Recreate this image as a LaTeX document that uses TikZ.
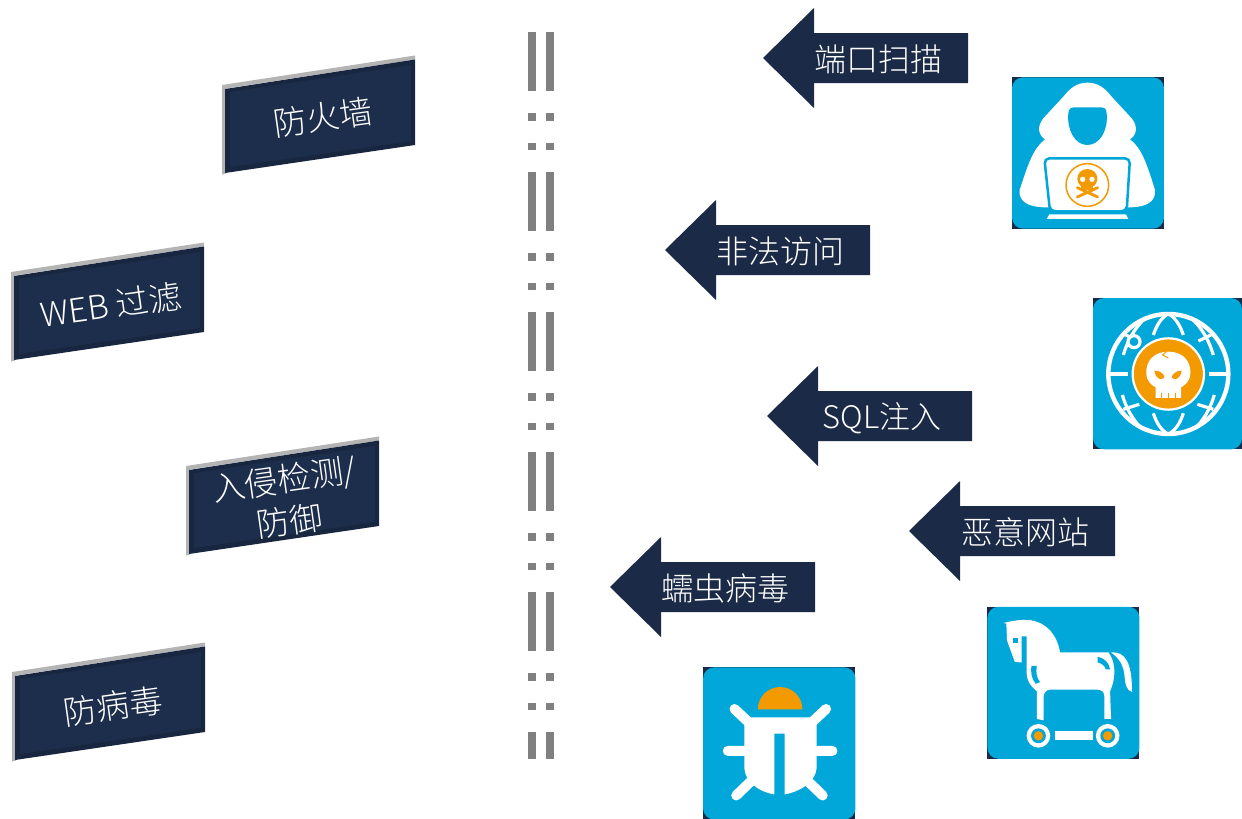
\documentclass[tikz,border=0pt]{standalone}
\usepackage{fontspec}
\setmainfont{Noto Sans CJK SC Light}
\definecolor{navy}{HTML}{1A2A47}
\definecolor{panelfill}{HTML}{1C2E4C}
\definecolor{paneledge}{HTML}{18273F}
\definecolor{sky}{HTML}{00A7D8}
\definecolor{amber}{HTML}{F39A00}
\definecolor{bar}{HTML}{808080}
\definecolor{edge}{HTML}{B4B4B4}
\tikzset{
  x=1pt,y=-1pt,
  lbl/.style={text=white,inner sep=0pt,font=\fontsize{32}{36}\selectfont},
  plbl/.style={lbl,rotate=8,align=center,font=\fontsize{33}{42}\selectfont},
  barfill/.style={fill=bar,draw=none},
  arrowfill/.style={fill=navy,draw=none},
  gline/.style={white,line width=3.2pt},
}
\newcommand{\panelshape}[2]{% x, y of top-left
  \fill[edge] (#1,#2) -- ++(193,-29.5) -- ++(0,4) -- ++(-189,29) -- ++(0,85) -- ++(-4,1) -- cycle;
  \fill[paneledge] (#1+3,#2+4) -- (#1+193,#2-25.5) -- (#1+193,#2+60) -- (#1+3,#2+88) -- cycle;
  \fill[panelfill] (#1+8,#2+7) -- (#1+189,#2-20) -- (#1+189,#2+56) -- (#1+8,#2+82) -- cycle;
}
\newcommand{\threat}[3]{% tip x, centre y, right x
  \fill[arrowfill] (#1,#2) -- (#1+51,#2-50) -- (#1+51,#2-25) -- (#3,#2-25) -- (#3,#2+25) -- (#1+51,#2+25) -- (#1+51,#2+50) -- cycle;
}
\newcommand{\iconbase}[4]{% left, top, right, bottom in local units
  \fill[navy] (#1,#2) rectangle (#3,#4);
  \fill[sky,rounded corners=11pt] (#1,#2) rectangle (#3,#4);
}
\begin{document}
\begin{tikzpicture}
\useasboundingbox (0,0) rectangle (1242,819);
% panels
\panelshape{222}{85}
\panelshape{11}{272}
\panelshape{186}{466}
\panelshape{12}{672}
\node[plbl] (p1) at (323,117) {防火墙};
\node[plbl] (p2) at (111,305) {WEB 过滤};
\node[plbl] (p3) at (287,500) {入侵检测/\\防御};
\node[plbl] (p4) at (113,706) {防病毒};
% dashed double line
\foreach \o in {0,140,280,420,560}{
  \foreach \x in {528,546}{
    \fill[barfill] (\x,32+\o) rectangle (\x+7.5,91+\o);
    \fill[barfill] (\x,113+\o) rectangle (\x+7.5,120.5+\o);
    \fill[barfill] (\x,142.5+\o) rectangle (\x+7.5,150+\o);
  }
}
\foreach \x in {528,546}{\fill[barfill] (\x,732) rectangle (\x+7.5,759);}
% arrows
\threat{763}{58}{968}
\threat{665}{250}{870}
\threat{767}{416}{972}
\threat{909}{531}{1115}
\threat{610}{587}{815}
\node[lbl] (a1) at (878,59) {端口扫描};
\node[lbl] (a2) at (780,251) {非法访问};
\node[lbl,font=\fontsize{31}{36}\selectfont] (a3) at (882,418) {SQL注入};
\node[lbl] (a4) at (1025,532) {恶意网站};
\node[lbl] (a5) at (725,588) {蠕虫病毒};
% hacker icon
\begin{scope}[shift={(1000,70)},x=0.3333pt,y=-0.3333pt]
  \iconbase{36}{22}{492}{476}
  \fill[white] (262,38) .. controls (295,38) and (315,55) .. (335,80)
    -- (395,145) .. controls (415,170) and (410,195) .. (390,208)
    .. controls (425,235) and (440,280) .. (465,360)
    .. controls (468,395) and (440,410) .. (395,412)
    -- (130,412) .. controls (85,410) and (55,395) .. (59,360)
    .. controls (85,280) and (100,235) .. (135,208)
    .. controls (115,195) and (110,170) .. (130,145)
    -- (190,80) .. controls (210,55) and (230,38) .. (262,38) -- cycle;
  \fill[sky] (205,130) .. controls (205,115) and (215,112) .. (225,112)
    -- (300,112) .. controls (312,112) and (320,115) .. (320,130)
    .. controls (325,180) and (300,225) .. (262,225)
    .. controls (225,225) and (200,180) .. (205,130) -- cycle;
  \draw[sky,fill=white,line width=2.5pt,rounded corners=5pt] (133,265) -- (390,265) -- (380,424) -- (150,424) -- cycle;
  \fill[white] (148,433) -- (378,433) -- (385,447) -- (140,447) -- cycle;
  \draw[amber,line width=1.5pt] (262,345) circle[radius=64];
  \fill[amber] (262,326) ellipse[x radius=30,y radius=29];
  \fill[amber] (244,338) rectangle (280,361);
  \fill[white] (248,328) circle[radius=8] (276,328) circle[radius=8];
  \draw[amber,line width=2.8pt,line cap=round] (232,353) -- (293,381) (293,353) -- (232,381);
\end{scope}
% globe icon
\begin{scope}[shift={(1085,290)},x=0.3333pt,y=-0.3333pt]
  \iconbase{24}{24}{471}{478}
  \draw[white,line width=4.4pt] (250,252) circle[radius=180];
  \draw[gline] (70,252) -- (128,252) (372,252) -- (430,252);
  % inner meridians
  \draw[gline] (205,135) .. controls (215,105) and (228,85) .. (248,72);
  \draw[gline] (295,135) .. controls (285,105) and (272,85) .. (252,72);
  \draw[gline] (205,370) .. controls (215,400) and (228,420) .. (248,432);
  \draw[gline] (295,370) .. controls (285,400) and (272,420) .. (252,432);
  % outer meridians
  \draw[gline] (325,90) .. controls (350,115) and (372,150) .. (385,195);
  \draw[gline] (175,90) .. controls (150,115) and (128,150) .. (115,195);
  \draw[gline] (330,415) .. controls (352,395) and (375,360) .. (388,315);
  \draw[gline] (170,415) .. controls (148,395) and (125,360) .. (112,315);
  % latitudes
  \draw[gline] (340,153) -- (388,130) (112,130) -- (160,153)
               (115,358) -- (163,343) (385,358) -- (337,343);
  \draw[white,line width=3.2pt,fill=sky] (147,155) circle[radius=18];
  \fill[sky] (250,252) circle[radius=118];
  \draw[white,line width=2.2pt,fill=amber] (250,252) circle[radius=107];
  \fill[white] (250,185) .. controls (295,185) and (318,215) .. (316,250)
    .. controls (315,275) and (300,285) .. (288,292) -- (288,324) -- (212,324) -- (212,292)
    .. controls (200,285) and (185,275) .. (184,250) .. controls (182,215) and (205,185) .. (250,185) -- cycle;
  \fill[amber] (208,242) .. controls (225,240) and (240,255) .. (238,262) .. controls (232,272) and (212,270) .. (208,242) -- cycle;
  \fill[amber] (290,242) .. controls (275,240) and (260,255) .. (260,262) .. controls (266,272) and (286,270) .. (290,242) -- cycle;
  \draw[amber,line width=1pt] (245,184) -- (233,195) -- (250,204);
  \draw[amber,line width=1pt] (228,308) -- (228,324) (250,308) -- (250,324) (270,308) -- (270,324);
\end{scope}
% horse icon
\begin{scope}[shift={(980,600)},x=0.3378pt,y=-0.3378pt]
  \iconbase{22}{20}{472}{470}
  \fill[white] (70,68) .. controls (110,58) and (130,58) .. (150,60)
    .. controls (200,68) and (228,105) .. (237,155) -- (380,155)
    .. controls (400,180) and (405,225) .. (385,270) -- (388,352) -- (368,352) -- (368,285)
    .. controls (368,272) and (360,265) .. (345,265) -- (210,265)
    .. controls (195,265) and (188,275) .. (188,290) -- (188,356) -- (168,352) -- (168,270)
    .. controls (145,250) and (138,235) .. (138,215) -- (138,108) -- (123,108) -- (123,185) -- (103,183)
    -- (80,120) -- (78,70) -- cycle;
  \fill[sky] (97,112) rectangle (112,128);
  \fill[sky] (152,195) -- (168,195) .. controls (165,215) and (168,232) .. (178,243) -- (165,248) .. controls (152,232) and (150,215) .. (152,195) -- cycle;
  \fill[sky] (348,168) .. controls (368,172) and (382,185) .. (385,205) -- (372,205) .. controls (370,195) and (360,187) .. (348,185) -- cycle;
  \fill[white] (388,155) .. controls (430,152) and (450,185) .. (450,272)
    .. controls (436,268) and (430,255) .. (428,225) .. controls (425,195) and (415,175) .. (388,155) -- cycle;
  \foreach \c in {173,378}{
    \fill[white] (\c,402) circle[radius=35];
    \fill[sky] (\c,402) circle[radius=22];
    \fill[amber] (\c,402) circle[radius=14];
  }
  \fill[white] (222,388) rectangle (335,415);
\end{scope}
% bug icon
\begin{scope}[shift={(695,660)},x=0.3378pt,y=-0.3378pt]
  \iconbase{24}{22}{475}{472}
  \fill[amber] (186,146) arc[start angle=180,end angle=360,radius=66] -- cycle;
  \draw[white,line width=10pt,line cap=round]
    (117,145) -- (165,190) (388,145) -- (340,190)
    (97,269) -- (160,269) (407,269) -- (345,269)
    (122,401) -- (175,350) (378,401) -- (325,350);
  \fill[white] (165,170) -- (340,170) -- (360,190) -- (360,320)
    .. controls (358,355) and (320,388) .. (265,398) -- (265,218) -- (235,218) -- (235,398)
    .. controls (180,388) and (148,355) .. (146,320) -- (146,190) -- cycle;
\end{scope}
\end{tikzpicture}
\end{document}
